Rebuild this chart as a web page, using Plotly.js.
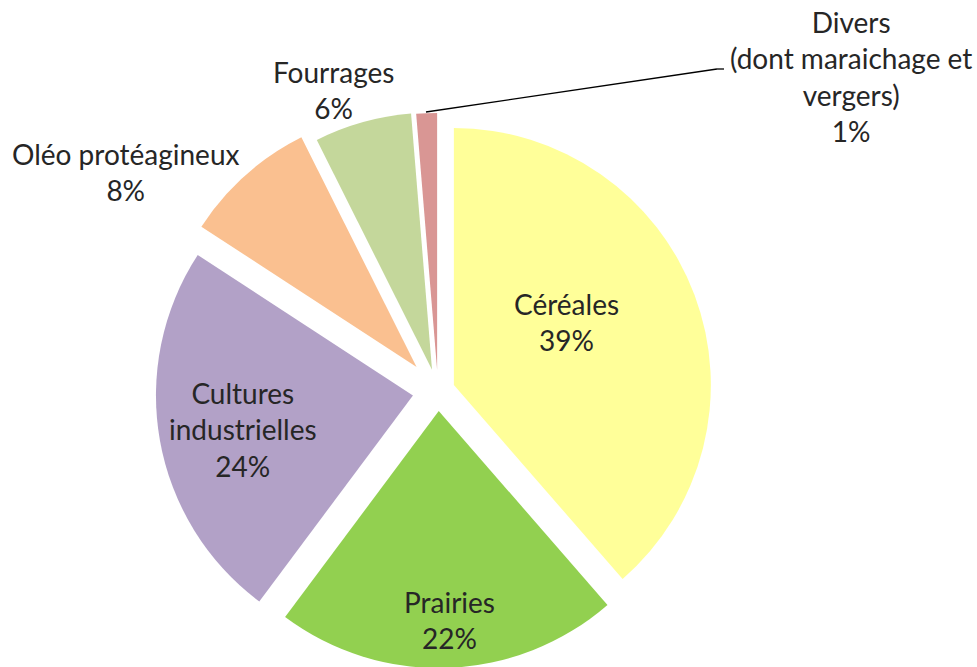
<!DOCTYPE html>
<html>
<head>
<meta charset="utf-8">
<script src="https://cdn.plot.ly/plotly-3.0.1.min.js"></script>
<style>
html,body{margin:0;padding:0;background:#fff;overflow:hidden;}
#frame{width:977px;height:667px;overflow:hidden;position:relative;}
#chart{width:977px;height:700px;}
</style>
</head>
<body>
<div id="frame"><div id="chart"></div></div>
<script>
// Data (shares; labels show the rounded percentages)
const categories = ["Céréales", "Prairies", "Cultures industrielles", "Oléo protéagineux", "Fourrages", "Divers (dont maraichage et vergers)"];
const labelLines = ["Céréales", "Prairies", "Cultures<br>industrielles", "Oléo protéagineux", "Fourrages", "Divers<br>(dont maraichage et<br>vergers)"];
const shares = [38.6, 21.6, 24.0, 8.4, 6.1, 1.3];
const colors = ["#FFFF99", "#92D050", "#B2A1C7", "#FAC090", "#C4D79B", "#D99694"];
const pulls = [0.066, 0.078, 0.099, 0.125, 0.086, 0.082];

const FONT = "Lato, 'Open Sans', sans-serif";
const textColor = "#262626";
const FS = 28;
const W = 977, H = 700;

const total = shares.reduce((a, b) => a + b, 0);
const pct = shares.map(v => Math.round(v / total * 100) + "%");

const trace = {
  type: "pie",
  labels: categories,
  values: shares,
  textinfo: "none",
  sort: false,
  direction: "clockwise",
  rotation: 0,
  pull: pulls,
  marker: { colors: colors, line: { width: 0 } },
  hoverinfo: "none",
  domain: { x: [0.1483, 0.7483], y: [0.0284, 0.8544] },
  automargin: false
};

// label placement (pixel centres in the visible 977x667 frame)
const labelPos = [[566, 322], [449, 620], [243, 429], [125, 172], [333, 90], [851, 77]];
const px2x = p => p / W;
const px2y = p => 1 - p / H;

const annotations = categories.map((c, i) => ({
  xref: "paper", yref: "paper",
  x: px2x(labelPos[i][0]), y: px2y(labelPos[i][1]),
  xanchor: "center", yanchor: "middle",
  text: labelLines[i] + "<br>" + pct[i],
  showarrow: false,
  font: { family: FONT, size: FS, color: textColor }, align: "center"
}));

// leader line for the small "Divers" slice
const leader = [[426, 112], [717, 69], [724, 69]];
const shapes = [];
for (let k = 0; k < leader.length - 1; k++) {
  shapes.push({
    type: "line", xref: "paper", yref: "paper",
    x0: px2x(leader[k][0]), y0: px2y(leader[k][1]),
    x1: px2x(leader[k + 1][0]), y1: px2y(leader[k + 1][1]),
    line: { color: "#000", width: 1.3 }
  });
}

const layout = {
  width: W,
  height: H,
  margin: { l: 0, r: 0, t: 0, b: 0 },
  paper_bgcolor: "#ffffff",
  showlegend: false,
  font: { family: FONT, size: FS, color: textColor },
  annotations: annotations,
  shapes: shapes
};

Plotly.newPlot("chart", [trace], layout, { staticPlot: true, displayModeBar: false });
</script>
</body>
</html>
